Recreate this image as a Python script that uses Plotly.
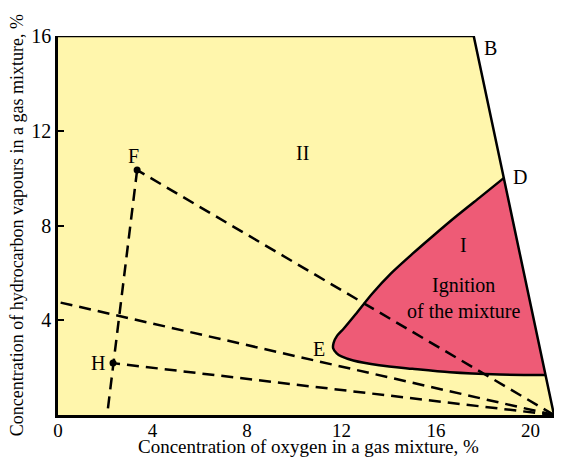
import plotly.graph_objects as go

# Region boundary (yellow area II)
region_x = [0, 0, 17.6, 21.0, 0]
region_y = [0, 16, 16, 0, 0]

# Ignition region I (red): boundary curve from D through nose E to C (closed straight C->D)
ign_x = [18.87, 17.9, 16.9, 15.9, 15.0, 14.1, 13.3, 12.6, 12.1, 11.82, 11.67, 11.65, 11.8, 12.0, 12.5, 13.6, 15.0, 16.6, 18.7, 20.64]
ign_y = [10.0, 9.22, 8.42, 7.58, 6.80, 5.98, 5.12, 4.25, 3.65, 3.35, 3.05, 2.82, 2.60, 2.47, 2.30, 2.10, 1.95, 1.80, 1.71, 1.69]

# Dashed lines
A = (21.0, 0.0)
F = (3.35, 10.34)
H = (2.33, 2.19)
G = (0.0, 4.77)
F_bottom = (2.08, 0.0)

label_text = ["B", "D", "C", "A", "E", "F", "H", "G", "II", "I", "Ignition<br>of the mixture"]
label_x = [18.3, 19.55, 21.55, 21.5, 11.06, 3.18, 1.68, -0.47, 10.34, 17.16, 17.16]
label_y = [15.5, 10.05, 1.6, 0.42, 2.78, 10.95, 2.19, 4.94, 11.05, 7.17, 4.95]

yticks = [4, 8, 12, 16]
xticks = [0, 4, 8, 12, 16, 20]

FONT = "Liberation Serif"
YELLOW = "#FFF6AC"
RED = "#EE5B76"

fig = go.Figure()
fig.add_trace(go.Scatter(x=region_x, y=region_y, fill="toself", fillcolor=YELLOW,
                         mode="lines", line=dict(width=0), hoverinfo="skip"))
fig.add_trace(go.Scatter(x=ign_x, y=ign_y, fill="toself", fillcolor=RED,
                         mode="lines", line=dict(color="black", width=2.5, shape="spline", smoothing=0.8),
                         hoverinfo="skip"))

dash = dict(color="black", width=2.5, dash="12px,7px")
for p, q in [(A, F), (F, F_bottom), (A, G), (A, H)]:
    fig.add_trace(go.Scatter(x=[p[0], q[0]], y=[p[1], q[1]], mode="lines", line=dash, cliponaxis=False))

fig.add_trace(go.Scatter(x=[F[0], H[0]], y=[F[1], H[1]], mode="markers",
                         marker=dict(color="black", size=7)))

# outline of region (top and right edge)
fig.add_trace(go.Scatter(x=region_x[1:4], y=region_y[1:4], mode="lines",
                         line=dict(color="black", width=2.5), cliponaxis=False))

for t, x, y in zip(label_text, label_x, label_y):
    fig.add_annotation(x=x, y=y, text=t, showarrow=False,
                       font=dict(family=FONT, size=20, color="black"))

# axis titles
fig.add_annotation(xref="paper", yref="paper", x=0.506, y=-0.083, xanchor="center", yanchor="middle",
                   text="Concentration of oxygen in a gas mixture, %", showarrow=False,
                   font=dict(family=FONT, size=19, color="black"))
fig.add_annotation(xref="paper", yref="paper", x=-0.083, y=0.5, xanchor="center", yanchor="middle",
                   textangle=-90,
                   text="Concentration of hydrocarbon vapours in a gas mixture, %", showarrow=False,
                   font=dict(family=FONT, size=18, color="black"))

fig.update_layout(
    width=572, height=458,
    margin=dict(l=58, r=18, t=36, b=43),
    paper_bgcolor="white", plot_bgcolor="white",
    showlegend=False,
    font=dict(family=FONT, color="black"),
)
fig.update_xaxes(range=[0, 21], tickvals=xticks, showgrid=False, zeroline=False,
                 showline=True, linecolor="black", linewidth=2.5, ticks="",
                 ticklabelstandoff=-4,
                 tickfont=dict(family=FONT, size=19), automargin=False)
fig.update_yaxes(range=[0, 16], tickvals=yticks, showgrid=False, zeroline=False,
                 showline=True, linecolor="black", linewidth=2.5, ticks="inside",
                 ticklen=6, tickwidth=2, tickcolor="black",
                 tickfont=dict(family=FONT, size=20), automargin=False)

fig.write_html("out.html", config={"displayModeBar": False},
               post_script="document.body.style.margin='0';")
